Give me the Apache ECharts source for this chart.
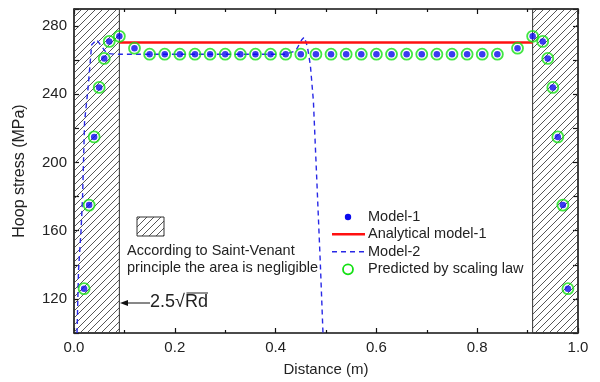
<!DOCTYPE html>
<html>
<head>
<meta charset="utf-8">
<script src="https://cdn.jsdelivr.net/npm/echarts@6/dist/echarts.min.js"></script>
<style>
  html, body { margin: 0; padding: 0; background: #fff; }
  #chart { width: 600px; height: 382px; }
</style>
</head>
<body>
<div id="chart"></div>
<script>
// Hoop stress along the pipe: finite-element models, analytical solution and scaling-law prediction
const model1Distance = [0.02, 0.03, 0.04, 0.05, 0.06, 0.07, 0.09, 0.12,
  0.15, 0.18, 0.21, 0.24, 0.27, 0.30, 0.33, 0.36, 0.39, 0.42, 0.45, 0.48,
  0.51, 0.54, 0.57, 0.60, 0.63, 0.66, 0.69, 0.72, 0.75, 0.78, 0.81, 0.84,
  0.88, 0.91, 0.93, 0.94, 0.95, 0.96, 0.97, 0.98];
const model1Stress = [126, 175, 215, 244, 261, 271, 274, 267,
  263.5, 263.5, 263.5, 263.5, 263.5, 263.5, 263.5, 263.5, 263.5, 263.5, 263.5, 263.5,
  263.5, 263.5, 263.5, 263.5, 263.5, 263.5, 263.5, 263.5, 263.5, 263.5, 263.5, 263.5,
  267, 274, 271, 261, 244, 215, 175, 126];

const scalingDistance = [0.02, 0.03, 0.04, 0.05, 0.06, 0.07, 0.09, 0.12,
  0.15, 0.18, 0.21, 0.24, 0.27, 0.30, 0.33, 0.36, 0.39, 0.42, 0.45, 0.48,
  0.51, 0.54, 0.57, 0.60, 0.63, 0.66, 0.69, 0.72, 0.75, 0.78, 0.81, 0.84,
  0.88, 0.91, 0.93, 0.94, 0.95, 0.96, 0.97, 0.98];
const scalingStress = [126, 175, 215, 244, 261, 271, 274, 267,
  263.5, 263.5, 263.5, 263.5, 263.5, 263.5, 263.5, 263.5, 263.5, 263.5, 263.5, 263.5,
  263.5, 263.5, 263.5, 263.5, 263.5, 263.5, 263.5, 263.5, 263.5, 263.5, 263.5, 263.5,
  267, 274, 271, 261, 244, 215, 175, 126];

const analyticalDistance = [0.09, 0.91];
const analyticalStress = [270.3, 270.3];

const model2Distance = [0.006, 0.009, 0.014, 0.017, 0.021, 0.028, 0.035, 0.045, 0.055, 0.065,
  0.08, 0.42, 0.44, 0.452, 0.457, 0.463, 0.469, 0.475, 0.482, 0.489, 0.494];
const model2Stress = [100, 137, 160, 180, 224, 244, 269, 272, 268, 264,
  263.5, 263.5, 265.5, 272, 273.5, 268, 257, 236, 188, 139, 100];

// Regions excluded by Saint-Venant's principle (distance ranges, m)
const saintVenantZones = [[0, 0.09], [0.91, 1.0]];

const xTicks = { min: 0, max: 1, step: 0.2 };
const yTicks = { min: 100, max: 290, step: 20, labelStep: 40 };

const FONT = 'Liberation Sans, Arial, Helvetica, sans-serif';
const BLUE = '#0a0aee';
const GREEN = '#14e014';

function zip(xs, ys) { return xs.map((x, i) => [x, ys[i]]); }

function hatchPattern() {
  const s = 7;
  const c = document.createElement('canvas');
  c.width = s; c.height = s;
  const g = c.getContext('2d');
  g.strokeStyle = '#444';
  g.lineWidth = 0.9;
  g.beginPath();
  g.moveTo(0, s); g.lineTo(s, 0);
  g.moveTo(-1, 1); g.lineTo(1, -1);
  g.moveTo(s - 1, s + 1); g.lineTo(s + 1, s - 1);
  g.stroke();
  return { image: c, repeat: 'repeat' };
}
const hatch = hatchPattern();

const axisText = { fontFamily: FONT, fontSize: 15, color: '#222' };
const frameLine = { show: true, onZero: false, lineStyle: { color: '#111', width: 1.5 } };
const noteFont = '14.5px ' + FONT;

const chart = echarts.init(document.getElementById('chart'), null, { renderer: 'canvas' });

chart.setOption({
  animation: false,
  backgroundColor: '#fff',
  grid: { left: 74, right: 22, top: 9, bottom: 46 },
  xAxis: [{
    type: 'value', min: xTicks.min, max: xTicks.max, interval: xTicks.step,
    name: 'Distance (m)', nameLocation: 'middle', nameGap: 29,
    nameTextStyle: { fontFamily: FONT, fontSize: 15, color: '#222' },
    axisLine: frameLine,
    axisTick: { inside: true, length: 5, lineStyle: { color: '#111', width: 1.2 } },
    minorTick: { show: true, splitNumber: 2, length: 3, lineStyle: { color: '#111', width: 1.2 } },
    axisLabel: Object.assign({ margin: 7, formatter: v => v.toFixed(1) }, axisText),
    splitLine: { show: false }
  }, {
    type: 'value', position: 'top', min: xTicks.min, max: xTicks.max, interval: xTicks.step,
    axisLine: frameLine,
    axisTick: { inside: true, length: 5, lineStyle: { color: '#111', width: 1.2 } },
    minorTick: { show: true, splitNumber: 2, length: 3, lineStyle: { color: '#111', width: 1.2 } },
    axisLabel: { show: false },
    splitLine: { show: false }
  }],
  yAxis: [{
    type: 'value', min: yTicks.min, max: yTicks.max, interval: yTicks.step,
    name: 'Hoop stress (MPa)', nameLocation: 'middle', nameGap: 46,
    nameTextStyle: { fontFamily: FONT, fontSize: 16, color: '#222' },
    axisLine: frameLine,
    axisTick: { inside: true, length: 5, lineStyle: { color: '#111', width: 1.2 } },
    axisLabel: Object.assign({ margin: 7,
      formatter: v => (v % yTicks.labelStep === 0 && v > yTicks.min) ? String(v) : '' }, axisText),
    splitLine: { show: false }
  }, {
    type: 'value', position: 'right', min: yTicks.min, max: yTicks.max, interval: yTicks.step,
    axisLine: frameLine,
    axisTick: { inside: true, length: 5, lineStyle: { color: '#111', width: 1.2 } },
    axisLabel: { show: false },
    splitLine: { show: false }
  }],
  series: [
    {
      name: 'Model-2', type: 'line', z: 2,
      data: zip(model2Distance, model2Stress),
      showSymbol: false, smooth: false,
      lineStyle: { color: '#2828e6', width: 1.4, type: [5, 4] },
      markArea: {
        silent: true,
        itemStyle: { color: hatch, borderColor: '#333', borderWidth: 1 },
        data: saintVenantZones.map(z => [{ xAxis: z[0], yAxis: yTicks.min }, { xAxis: z[1], yAxis: yTicks.max }])
      }
    },
    {
      name: 'Analytical model-1', type: 'line', z: 3,
      data: zip(analyticalDistance, analyticalStress),
      showSymbol: false,
      lineStyle: { color: '#ff1010', width: 2.5 }
    },
    {
      name: 'Predicted by scaling law', type: 'scatter', z: 4,
      data: zip(scalingDistance, scalingStress),
      symbol: 'circle', symbolSize: 11,
      itemStyle: { color: 'rgba(0,0,0,0)', borderColor: GREEN, borderWidth: 1.8 }
    },
    {
      name: 'Model-1', type: 'scatter', z: 5,
      data: zip(model1Distance, model1Stress),
      symbol: 'circle', symbolSize: 6.5,
      itemStyle: { color: BLUE }
    }
  ],
  graphic: [
    // legend
    { type: 'circle', shape: { cx: 348, cy: 217, r: 3.2 }, style: { fill: BLUE } },
    { type: 'text', x: 368, y: 217, style: { text: 'Model-1', fill: '#222', font: noteFont, verticalAlign: 'middle' } },
    { type: 'line', shape: { x1: 332, y1: 234.3, x2: 365, y2: 234.3 }, style: { stroke: '#ff1010', lineWidth: 2.5 } },
    { type: 'text', x: 368, y: 234.3, style: { text: 'Analytical model-1', fill: '#222', font: noteFont, verticalAlign: 'middle' } },
    { type: 'line', shape: { x1: 332, y1: 251.7, x2: 365, y2: 251.7 }, style: { stroke: '#2828e6', lineWidth: 1.4, lineDash: [5, 4] } },
    { type: 'text', x: 368, y: 251.7, style: { text: 'Model-2', fill: '#222', font: noteFont, verticalAlign: 'middle' } },
    { type: 'circle', shape: { cx: 348, cy: 269.3, r: 5 }, style: { fill: 'none', stroke: GREEN, lineWidth: 1.8 } },
    { type: 'text', x: 368, y: 269.3, style: { text: 'Predicted by scaling law', fill: '#222', font: noteFont, verticalAlign: 'middle' } },
    // Saint-Venant note
    { type: 'rect', shape: { x: 137, y: 217, width: 27, height: 19 }, style: { fill: hatch, stroke: '#333', lineWidth: 1 } },
    { type: 'text', x: 127, y: 251, style: { text: 'According to Saint-Venant', fill: '#222', font: noteFont, verticalAlign: 'middle' } },
    { type: 'text', x: 127, y: 268, style: { text: 'principle the area is negligible', fill: '#222', font: noteFont, verticalAlign: 'middle' } },
    // arrow marking the 2.5√(Rd) boundary
    { type: 'line', shape: { x1: 126, y1: 303, x2: 150, y2: 303 }, style: { stroke: '#111', lineWidth: 1 } },
    { type: 'polygon', shape: { points: [[120, 303], [128, 300], [128, 306]] }, style: { fill: '#111' } },
    { type: 'text', x: 150, y: 302, style: { text: '2.5\u221ARd', fill: '#222', font: '18px ' + FONT, verticalAlign: 'middle' } },
    { type: 'line', shape: { x1: 186.5, y1: 293, x2: 208, y2: 293 }, style: { stroke: '#222', lineWidth: 1 } }
  ]
});
</script>
</body>
</html>
